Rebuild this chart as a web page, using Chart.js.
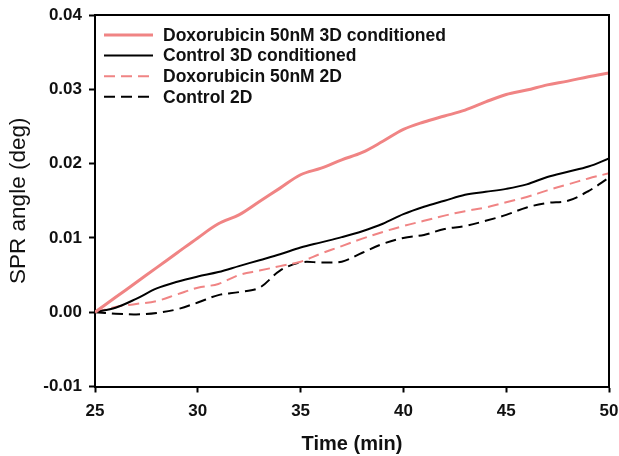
<!DOCTYPE html>
<html>
<head>
<meta charset="utf-8">
<script src="https://cdn.jsdelivr.net/npm/chart.js@4"></script>
<style>
  html, body { margin: 0; padding: 0; background: #fff; }
  #wrap { width: 619px; height: 456px; }
</style>
</head>
<body>
<div id="wrap"><canvas id="chart" width="619" height="456"></canvas></div>
<script>
// time in minutes
const times = [25, 26, 27, 28, 29, 30, 31, 32, 33, 34, 35, 36, 37, 38, 39, 40, 41, 42, 43, 44, 45, 46, 47, 48, 49, 50];

// SPR angle (deg)
const doxo3D = [0.0, 0.0020, 0.0040, 0.0060, 0.0080, 0.0100, 0.0119, 0.0131, 0.0149, 0.0167, 0.0185, 0.0194, 0.0205,
  0.0215, 0.0230, 0.0246, 0.0256, 0.0264, 0.0272, 0.0283, 0.0293, 0.0299, 0.0306, 0.0311, 0.0317, 0.0322];
const control3D = [0.0, 0.0006, 0.0018, 0.0032, 0.0041, 0.0048, 0.0054, 0.0062, 0.0070, 0.0078, 0.0087, 0.0094, 0.0101,
  0.0109, 0.0119, 0.0132, 0.0142, 0.0150, 0.0158, 0.0162, 0.0166, 0.0172, 0.0182, 0.0189, 0.0196, 0.0207];
const doxo2D = [0.0, 0.0007, 0.0011, 0.0015, 0.0024, 0.0033, 0.0038, 0.0050, 0.0056, 0.0062, 0.0068, 0.0079, 0.0089,
  0.0099, 0.0108, 0.0116, 0.0123, 0.0130, 0.0136, 0.0141, 0.0148, 0.0155, 0.0164, 0.0172, 0.0180, 0.0187];
const control2D = [0.0, -0.0002, -0.0003, -0.0001, 0.0004, 0.0013, 0.0023, 0.0027, 0.0033, 0.0056, 0.0067, 0.0067, 0.0068,
  0.0080, 0.0092, 0.0100, 0.0104, 0.0112, 0.0116, 0.0123, 0.0131, 0.0141, 0.0147, 0.0150, 0.0163, 0.0181];

const seriesLabels = ["Doxorubicin 50nM 3D conditioned", "Control 3D conditioned", "Doxorubicin 50nM 2D", "Control 2D"];
const xTicks = [25, 30, 35, 40, 45, 50];
const yTicks = [-0.01, 0.00, 0.01, 0.02, 0.03, 0.04];

const pink = "#F08484";
const FONT = "'Liberation Sans', Arial, sans-serif";

function toPoints(values) {
  return values.map((v, i) => ({ x: times[i], y: v }));
}

function makeDataset(label, values, color, width, dash) {
  return {
    label: label,
    data: toPoints(values),
    borderColor: color,
    borderWidth: width,
    borderDash: dash,
    pointRadius: 0,
    tension: 0.35,
    fill: false,
  };
}

// box frame + legend in the upper left of the plot
const framePlugin = {
  id: "frame",
  afterDraw(chart) {
    const { ctx, chartArea } = chart;
    ctx.save();
    ctx.strokeStyle = "#000";
    ctx.lineWidth = 2;
    ctx.beginPath();
    ctx.moveTo(chartArea.left, chartArea.top);
    ctx.lineTo(chartArea.right, chartArea.top);
    ctx.lineTo(chartArea.right, chartArea.bottom);
    ctx.stroke();

    // legend
    const x0 = chartArea.left + 9;
    let y = chartArea.top + 20;
    ctx.font = "bold 17.5px " + FONT;
    ctx.textBaseline = "middle";
    ctx.fillStyle = "#111";
    chart.data.datasets.forEach((ds) => {
      ctx.beginPath();
      ctx.strokeStyle = ds.borderColor;
      ctx.lineWidth = ds.borderWidth;
      ctx.setLineDash(ds.borderDash || []);
      ctx.moveTo(x0, y);
      ctx.lineTo(x0 + 49, y);
      ctx.stroke();
      ctx.setLineDash([]);
      ctx.fillText(ds.label, x0 + 59, y + 1);
      y += 20.6;
    });
    ctx.restore();
  },
};

new Chart(document.getElementById("chart"), {
  type: "line",
  data: {
    datasets: [
      makeDataset(seriesLabels[0], doxo3D, pink, 3, []),
      makeDataset(seriesLabels[1], control3D, "#000", 2, []),
      makeDataset(seriesLabels[2], doxo2D, pink, 2, [11, 6]),
      makeDataset(seriesLabels[3], control2D, "#000", 2, [11, 6]),
    ],
  },
  options: {
    responsive: false,
    animation: false,
    layout: { padding: { top: 15, right: 10, left: 0, bottom: 0 } },
    plugins: {
      legend: { display: false },
      tooltip: { enabled: false },
    },
    scales: {
      x: {
        type: "linear",
        min: 25,
        max: 50,
        afterBuildTicks: (scale) => { scale.ticks = xTicks.map((v) => ({ value: v })); },
        afterFit: (scale) => {
          scale.height = 69.5;
          scale.paddingLeft = 0;
          scale.paddingRight = 0;
        },
        grid: { drawOnChartArea: false, drawTicks: true, tickLength: 6, tickWidth: 2, color: "#000" },
        border: { display: true, color: "#000", width: 2 },
        ticks: { color: "#111", font: { family: FONT, size: 17, weight: "bold" }, padding: 9, maxRotation: 0 },
        title: {
          display: true,
          text: "Time (min)",
          color: "#111",
          font: { family: FONT, size: 20, weight: "bold" },
          padding: { top: 4, bottom: 0 },
        },
      },
      y: {
        min: -0.01,
        max: 0.04,
        afterBuildTicks: (scale) => { scale.ticks = yTicks.map((v) => ({ value: v })); },
        afterFit: (scale) => {
          scale.width = 95;
          scale.paddingTop = 0;
          scale.paddingBottom = 0;
        },
        grid: { drawOnChartArea: false, drawTicks: true, tickLength: 6, tickWidth: 2, color: "#000" },
        border: { display: true, color: "#000", width: 2 },
        ticks: {
          color: "#111",
          font: { family: FONT, size: 17, weight: "bold" },
          padding: 7,
          callback: (v) => v.toFixed(2),
        },
        title: {
          display: true,
          text: "SPR angle (deg)",
          color: "#111",
          font: { family: FONT, size: 22.5, weight: "normal" },
          padding: { top: 5, bottom: 0 },
        },
      },
    },
  },
  plugins: [framePlugin],
});
</script>
</body>
</html>
